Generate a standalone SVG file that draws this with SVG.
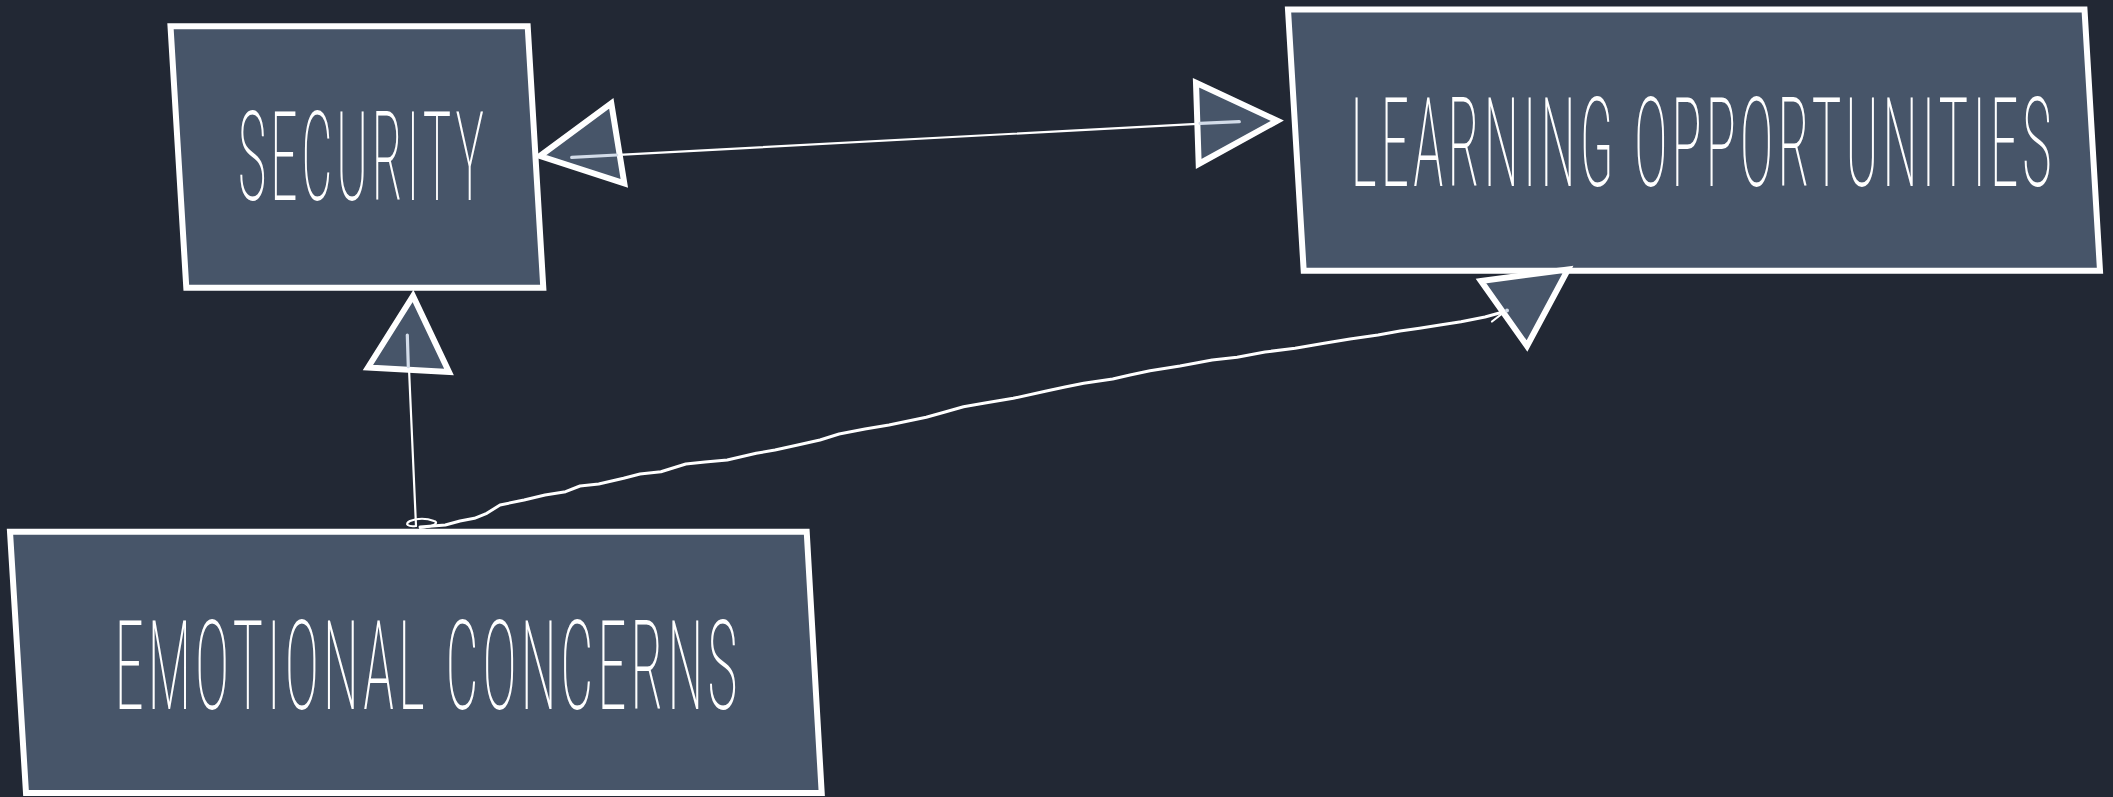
<svg xmlns="http://www.w3.org/2000/svg" width="2113" height="797" viewBox="0 0 2113 797">
<style>
.node{fill:#475569;stroke:#ffffff;stroke-width:6;stroke-linejoin:miter}
.lbl{fill:#ffffff;font-family:Roboto,"Liberation Sans",sans-serif;font-weight:200;font-size:124.5px;letter-spacing:12px}
.ln{fill:none;stroke:#ffffff;stroke-width:2.2;stroke-linecap:round;stroke-linejoin:round}
.wv{fill:none;stroke:#ffffff;stroke-width:3;stroke-linecap:round;stroke-linejoin:round}
.head{fill:#475569;stroke:#ffffff;stroke-width:6;stroke-linejoin:miter}
.hi{fill:none;stroke:#d3dce9;stroke-width:3.2;stroke-linecap:round}
</style>
<rect x="0" y="0" width="2113" height="797" fill="#222834"/>
<g id="node-security">
<polygon class="node" points="170.5,26.3 527.7,26.3 543.3,287.8 186.3,287.8"/>
<text class="lbl" transform="translate(238.3,200) scale(0.376,1)" x="0" y="0" textLength="665" lengthAdjust="spacingAndGlyphs">SECURITY</text>
</g>
<g id="node-learning">
<polygon class="node" points="1288,9.5 2084.5,9.5 2100,270.7 1303.7,270.7"/>
<text class="lbl" transform="translate(1351,186) scale(0.383,1)" x="0" y="0" textLength="1841" lengthAdjust="spacingAndGlyphs">LEARNING OPPORTUNITIES</text>
</g>
<g id="node-emotional">
<polygon class="node" points="10,531.7 806.7,531.7 821.7,793 26,793"/>
<text class="lbl" transform="translate(115,709.3) scale(0.394,1)" x="0" y="0" textLength="1591" lengthAdjust="spacingAndGlyphs">EMOTIONAL CONCERNS</text>
</g>
<g id="connectors">
<line class="ln" x1="572" y1="157.3" x2="1239" y2="121.7"/>
<polygon class="head" points="540,156 611.3,103.3 624.3,183.3"/>
<polygon class="head" points="1196,82.7 1277.3,120.7 1198.7,164"/>
<line class="hi" x1="571.7" y1="157.3" x2="616.7" y2="155"/>
<line class="hi" x1="1200" y1="123.3" x2="1239.3" y2="121.7"/>
<line class="ln" x1="416" y1="526" x2="407.5" y2="335"/>
<polygon class="head" points="413,296 368,367.5 449,372"/>
<line class="hi" x1="408.3" y1="366.7" x2="407.3" y2="335"/>
<path class="ln" d="M416,526 C408,527 404,524 410,521 C418,518 426,518 434,521 C440,523 432,527 420,528"/>
<polyline class="wv" points="420,527 445.3,525 460,521 474.4,518.3 486.8,513.3 500,505 524.1,500 545,495 565.6,491.7 580,486 598.7,484 623.6,478.3 640,474 660.9,471.7 685.8,464 705,462 727.2,460 756.2,453.3 775,450 797.7,445 820,440 839.1,434 865,429 889,425 926.2,417.3 945,412 963.5,406.7 985,403 1013.3,398.3 1046.4,391 1065,387 1083.7,383.3 1112.7,379 1130,375 1150,370.7 1180,366 1212.2,360 1237.1,357.3 1265,352 1295.1,348.3 1324.2,343.3 1350,339 1378,335 1400,331 1419.5,328.3 1440,325 1461,321.7 1485,317 1503,312"/>
<polygon class="head" points="1481,281 1568,269.5 1527,346"/>
<path class="ln" d="M1492,321.5 L1501,314.5"/>
<circle cx="1507" cy="310.5" r="2" fill="#d3dce9"/>
</g>
</svg>
